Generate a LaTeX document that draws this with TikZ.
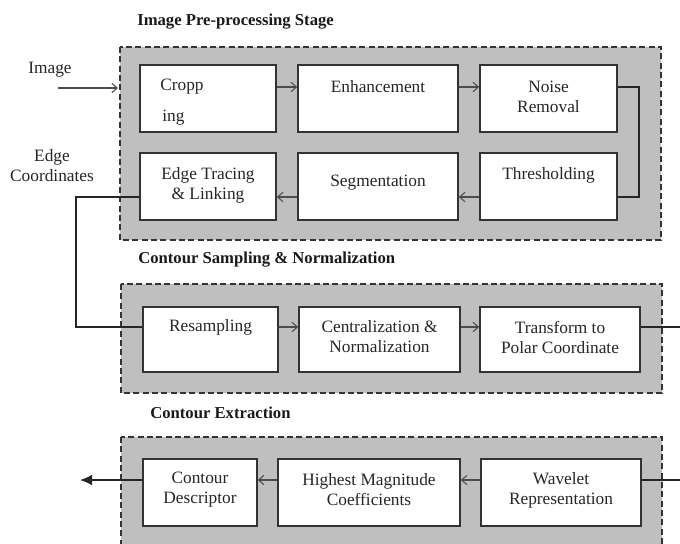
\documentclass[tikz,border=0pt]{standalone}
\usepackage{fontspec}
\setmainfont{Liberation Serif}
\usetikzlibrary{arrows.meta,calc}
\begin{document}
\begin{tikzpicture}[x=0.75pt,y=-0.75pt,
 grp/.style={draw=black!80,dash pattern=on 4.5pt off 2.5pt,line width=1.1pt,fill=black!25},
 blk/.style={draw=black!80,line width=1.2pt,fill=white,inner sep=0pt},
 txt/.style={font=\fontsize{13}{15}\selectfont,text=black!85,align=center,inner sep=0pt},
 ttl/.style={font=\fontsize{12.5}{15}\selectfont\bfseries,text=black!90,anchor=west,inner sep=0pt},
 arr/.style={draw=black!70,line width=0.8pt,-{Straight Barb[length=4pt,width=7pt]}},
 wire/.style={draw=black!85,line width=1pt}]
\useasboundingbox (0,0) rectangle (680,543);
\clip (0,0) rectangle (680,543);
% row coordinates
\coordinate (r1) at (0,87);
\coordinate (r2) at (0,197);
\coordinate (r3) at (0,327);
\coordinate (r4) at (0,480);
% titles
\node[ttl] (t1) at (137,22) {Image Pre-processing Stage};
\node[ttl] (t2) at (138,260) {Contour Sampling \& Normalization};
\node[ttl] (t3) at (150,413) {Contour Extraction};
% groups
\draw[grp] (120,47) rectangle (661,240);
\draw[grp] (121,284) rectangle (662,393);
\draw[grp] (121,437) rectangle (662,570);
% group 1 boxes
\node[blk,minimum width=102pt,minimum height=50.25pt] (crop) at (208,98.5) {};
\node[blk,minimum width=120pt,minimum height=50.25pt] (enh) at (378,98.5) {};
\node[blk,minimum width=102.75pt,minimum height=50.25pt] (noise) at (548.5,98.5) {};
\node[blk,minimum width=102pt,minimum height=50.25pt] (edge) at (208,186.5) {};
\node[blk,minimum width=120pt,minimum height=50.25pt] (seg) at (378,186.5) {};
\node[blk,minimum width=102.75pt,minimum height=50.25pt] (thr) at (548.5,186.5) {};
\node[txt,anchor=west] (cropa) at (160,87) {Cropp};
\node[txt,anchor=west] (cropb) at (162,118) {ing};
\node[txt] (enht) at (378,87) {Enhancement};
\node[txt] (noiset) at (548.5,97) {Noise\\Removal};
\node[txt] (edget) at (208,185) {Edge Tracing\\\& Linking};
\node[txt] (segt) at (378,183) {Segmentation};
\node[txt] (thrt) at (548.5,175) {Thresholding};
% group 2 boxes
\node[blk,minimum width=101.25pt,minimum height=48.75pt] (res) at (210.5,339.5) {};
\node[blk,minimum width=120.75pt,minimum height=48.75pt] (cen) at (379.5,339.5) {};
\node[blk,minimum width=120pt,minimum height=48.75pt] (tra) at (560,339.5) {};
\node[txt] (rest) at (210.5,327) {Resampling};
\node[txt] (cent) at (379.5,337) {Centralization \&\\Normalization};
\node[txt] (trat) at (560,337) {Transform to\\Polar Coordinate};
% group 3 boxes
\node[blk,minimum width=85.5pt,minimum height=50.25pt] (con) at (200,492.5) {};
\node[blk,minimum width=136.5pt,minimum height=50.25pt] (hig) at (369,492.5) {};
\node[blk,minimum width=120pt,minimum height=50.25pt] (wav) at (561,492.5) {};
\node[txt] (cont) at (200,490) {Contour\\Descriptor};
\node[txt] (higt) at (369,490) {Highest Magnitude\\Coefficients};
\node[txt] (wavt) at (561,490) {Wavelet\\Representation};
% side labels
\node[txt] (imgl) at (50,70) {Image};
\node[txt] (edgel) at (52,166) {Edge\\Coordinates};
% free ends
\coordinate (imgs) at (58,88);
\coordinate (g1w) at (118,88);
\coordinate (nrb) at (639,150);
\coordinate (edb) at (76,260);
\coordinate (rout) at (682,327);
\coordinate (rin) at (682,480);
\coordinate (outend) at (80,480);
% connectors
\draw[arr] (imgs) -- (g1w);
\draw[arr] (crop.east |- r1) -- (enh.west |- r1);
\draw[arr] (enh.east |- r1) -- (noise.west |- r1);
\draw[wire] (noise.east |- r1) -| (nrb) |- (thr.east |- r2);
\draw[arr] (thr.west |- r2) -- (seg.east |- r2);
\draw[arr] (seg.west |- r2) -- (edge.east |- r2);
\draw[wire] (edge.west |- r2) -| (edb) |- (res.west |- r3);
\draw[arr] (res.east |- r3) -- (cen.west |- r3);
\draw[arr] (cen.east |- r3) -- (tra.west |- r3);
\draw[wire] (tra.east |- r3) -- (rout);
\draw[wire] (rin) -- (wav.east |- r4);
\draw[arr] (wav.west |- r4) -- (hig.east |- r4);
\draw[arr] (hig.west |- r4) -- (con.east |- r4);
\draw[wire,-{Latex[length=9pt,width=8pt]}] (con.west |- r4) -- (outend);
\end{tikzpicture}
\end{document}
